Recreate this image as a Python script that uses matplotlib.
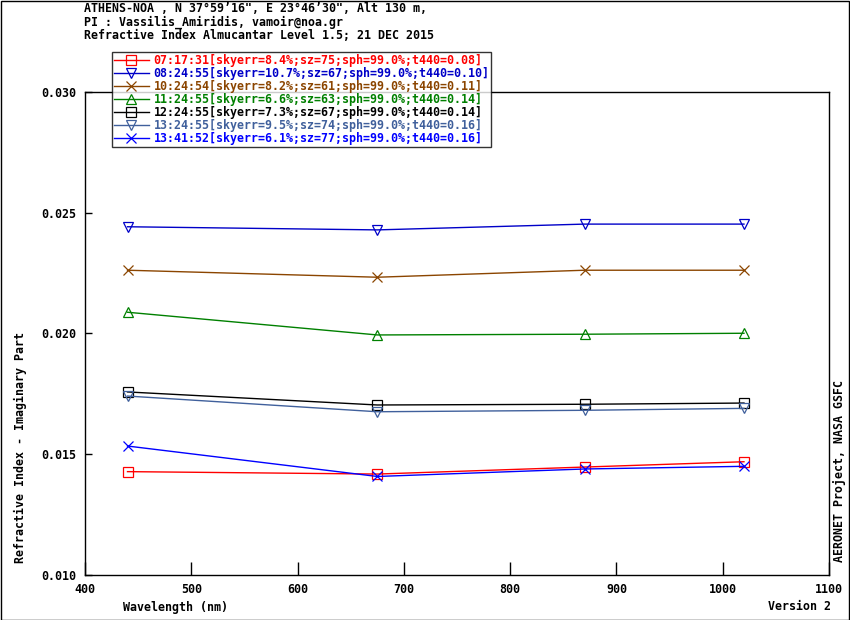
import numpy as np
import matplotlib.pyplot as plt
from matplotlib.patches import Rectangle

# wavelengths (nm)
wavelength = [440, 675, 870, 1020]

# imaginary part of refractive index per almucantar
labels = [
    "07:17:31[skyerr=8.4%;sz=75;sph=99.0%;t440=0.08]",
    "08:24:55[skyerr=10.7%;sz=67;sph=99.0%;t440=0.10]",
    "10:24:54[skyerr=8.2%;sz=61;sph=99.0%;t440=0.11]",
    "11:24:55[skyerr=6.6%;sz=63;sph=99.0%;t440=0.14]",
    "12:24:55[skyerr=7.3%;sz=67;sph=99.0%;t440=0.14]",
    "13:24:55[skyerr=9.5%;sz=74;sph=99.0%;t440=0.16]",
    "13:41:52[skyerr=6.1%;sz=77;sph=99.0%;t440=0.16]",
]
k_0717 = [0.01428, 0.01418, 0.01447, 0.01469]
k_0824 = [0.02442, 0.02429, 0.02453, 0.02453]
k_1024 = [0.02262, 0.02233, 0.02262, 0.02262]
k_1124 = [0.02088, 0.01994, 0.01997, 0.02001]
k_1224 = [0.01758, 0.01704, 0.01707, 0.01712]
k_1324 = [0.01741, 0.01676, 0.01682, 0.01690]
k_1341 = [0.01534, 0.01408, 0.01439, 0.01450]
series = [k_0717, k_0824, k_1024, k_1124, k_1224, k_1324, k_1341]

colors = ['#ff0000', '#0000c8', '#8b4500', '#008000', '#000000', '#40609c', '#0000ff']
markers = ['s', 'v', 'x', '^', 's', 'v', 'x']
msizes = [7, 6.5, 7.5, 6.5, 7, 6.5, 7.5]

header = ["ATHENS-NOA , N 37\u00b059\u201916\", E 23\u00b046\u201930\", Alt 130 m,",
          "PI : Vassilis_Amiridis, vamoir@noa.gr",
          "Refractive Index Almucantar Level 1.5; 21 DEC 2015"]

plt.rcParams['font.family'] = ['DejaVu Sans Mono']
plt.rcParams['font.weight'] = 'bold'
fs = 8.4

W, H = 850, 620
fig = plt.figure(figsize=(W / 100, H / 100), dpi=100)
ax = fig.add_axes([85 / W, 1 - 575 / H, (829 - 85) / W, (575 - 92) / H])

for y, c, m, ms, lab in zip(series, colors, markers, msizes, labels):
    ax.plot(wavelength, y, color=c, lw=1.0, marker=m, ms=ms, mfc='none',
            mec=c, mew=0.9, label=lab)

ax.set_xlim(400, 1100)
ax.set_ylim(0.010, 0.030)
ax.set_xticks(np.arange(400, 1101, 100))
ax.set_yticks([0.010, 0.015, 0.020, 0.025, 0.030])
ax.set_yticklabels(['0.010', '0.015', '0.020', '0.025', '0.030'])
ax.tick_params(axis='x', direction='in', length=9.5, width=1, pad=6, labelsize=fs)
ax.tick_params(axis='y', direction='in', length=5, width=1, pad=6.5, labelsize=fs)
for sp in ax.spines.values():
    sp.set_linewidth(1)

leg = fig.legend(loc='upper left', bbox_to_anchor=(112 / W, 1 - 52 / H),
                 borderaxespad=0, frameon=True, fancybox=False,
                 handlelength=3.0, handletextpad=0.4, labelspacing=0.0,
                 borderpad=0.15, prop={'weight': 'bold', 'size': fs})
leg.get_frame().set_edgecolor('black')
leg.get_frame().set_linewidth(1)
for txt, c in zip(leg.get_texts(), colors):
    txt.set_color(c)

for i, line in enumerate(header):
    fig.text(84 / W, 1 - (9 + 13.3 * i) / H, line, fontsize=fs, va='center', ha='left')

fig.text(123 / W, 1 - 607 / H, "Wavelength (nm)", fontsize=fs, va='center', ha='left')
fig.text(831 / W, 1 - 607 / H, "Version 2", fontsize=fs, va='center', ha='right')
fig.text(20 / W, 1 - 563 / H, "Refractive Index - Imaginary Part", fontsize=fs,
         rotation=90, ha='center', va='bottom')
fig.text(840 / W, 1 - 562 / H, "AERONET Project, NASA GSFC", fontsize=fs,
         rotation=90, ha='center', va='bottom')

fig.patches.append(Rectangle((0.5 / W, 0.5 / H), (W - 1.5) / W, (H - 1.5) / H,
                             transform=fig.transFigure, fill=False,
                             edgecolor='black', lw=1))

fig.savefig('out.png', dpi=100)
